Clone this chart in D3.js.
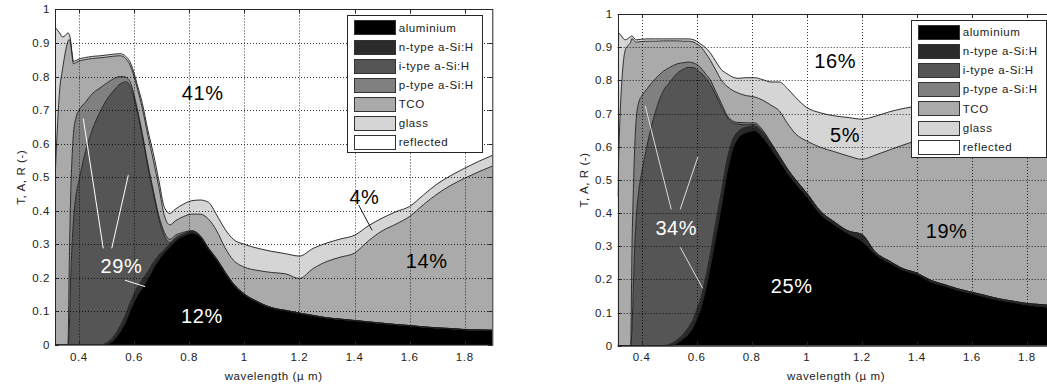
<!DOCTYPE html>
<html>
<head>
<meta charset="utf-8">
<script src="https://cdn.jsdelivr.net/npm/d3@7"></script>
<style>
  body { margin: 0; background: #fff; }
  svg { display: block; }
  text { font-family: "Liberation Sans", Arial, Helvetica, sans-serif; }
</style>
</head>
<body>
<svg id="chart" width="1047" height="387"></svg>
<script>
// Wavelength grid (µm), shared by both cells
const wavelength = [0.313, 0.32, 0.33, 0.34, 0.35, 0.36, 0.365, 0.37, 0.375, 0.38, 0.39, 0.40,
  0.42, 0.45, 0.48, 0.50, 0.53, 0.55, 0.57, 0.59, 0.60, 0.61, 0.63, 0.65, 0.67, 0.69, 0.71, 0.73,
  0.75, 0.78, 0.81, 0.84, 0.87, 0.90, 0.93, 0.96, 1.0, 1.05, 1.1, 1.15, 1.2, 1.25, 1.3, 1.35, 1.4,
  1.45, 1.5, 1.55, 1.6, 1.65, 1.7, 1.75, 1.8, 1.85, 1.9];

const layerNames = ["aluminium", "n-type a-Si:H", "i-type a-Si:H", "p-type a-Si:H", "TCO", "glass", "reflected"];
const xTickValues = [0.4, 0.6, 0.8, 1, 1.2, 1.4, 1.6, 1.8];
const yTickValues = [0, 0.1, 0.2, 0.3, 0.4, 0.5, 0.6, 0.7, 0.8, 0.9, 1];

// ---- Cell A (left): absorption in each layer ----
const cellA_aluminium = [0,0,0,0,0,0,0,0,0,0,0,0,0,0,0,
  0.002,0.018,0.04,0.07,0.11,0.127,0.144,0.17,0.197,0.228,0.254,0.275,0.293,0.31,0.325,0.334,
  0.322,0.285,0.253,0.215,0.18,0.15,0.127,0.11,0.102,0.094,0.087,0.08,0.076,0.072,0.068,0.064,
  0.06,0.057,0.053,0.05,0.048,0.045,0.044,0.043];
const cellA_nType = [0,0,0,0,0,0,0,0,0,0,0,0,0,0,0,
  0.005,0.012,0.018,0.022,0.025,0.026,0.026,0.025,0.022,0.018,0.014,0.01,0.008,0.006,0.004,0.003,
  0.002,0.002,0.002,0.002,0.002,0.002,
  0.001,0.001,0.001,0.001,0.001,0.001,0.001,0.001,0.001,0.001,0.001,0.001,0.001,0.001,0.001,0.001,0.001,0.001];
const cellA_iType = [0,0,0,0,0,0,
  0.05,0.20,0.30,0.37,0.45,0.49,0.565,0.645,0.70,0.723,0.732,0.72,0.692,0.627,0.582,0.53,0.425,
  0.311,0.204,0.107,0.04,0.004,0.004,0.003,0.002,0.001,0.001,0.001,0.001,0.001,
  0,0,0,0,0,0,0,0,0,0,0,0,0,0,0,0,0,0,0];
const cellA_pType = [0,0,0,0,0,0,
  0.20,0.25,0.26,0.26,0.23,0.21,0.155,0.105,0.068,0.05,0.033,0.022,0.014,0.013,0.01,0.01,0.01,
  0.01,0.01,0.01,0.01,0.01,0.007,0.004,0.002,0.001,0.001,0.001,
  0,0,0,0,0,0,0,0,0,0,0,0,0,0,0,0,0,0,0,0,0];
const cellA_tco = [0.49,0.62,0.76,0.82,0.87,0.905,0.66,0.445,0.302,0.208,0.162,0.146,
  0.13,0.104,0.088,0.078,0.066,0.062,0.055,0.05,0.055,0.06,0.075,0.085,0.09,0.085,0.05,0.043,
  0.043,0.047,0.049,0.064,0.086,0.083,0.072,0.07,
  0.08,0.094,0.105,0.109,0.103,0.14,0.168,0.185,0.201,0.241,0.275,0.299,0.325,0.364,0.399,0.427,
  0.451,0.471,0.489];
const cellA_glass = [0.457,0.32,0.17,0.098,0.052,0.025,0.015,0.01,0.008,0.007,0.006,0.006,
  0.006,0.006,0.006,0.006,0.006,0.006,0.007,0.01,0.01,0.01,0.015,0.015,0.02,0.02,0.025,0.034,
  0.035,0.037,0.04,0.042,0.05,0.047,0.055,0.062,
  0.068,0.066,0.063,0.06,0.067,0.06,0.055,0.054,0.053,0.045,0.038,0.037,0.03,0.029,0.03,0.029,
  0.03,0.031,0.032];

// ---- Cell B (right): absorption in each layer ----
const cellB_aluminium = [0,0,0,0,0,0,0,0,0,0,0,0,0,0,0,
  0,0.008,0.02,0.035,0.06,0.08,0.10,0.16,0.24,0.33,0.42,0.52,0.59,0.625,0.643,0.648,
  0.628,0.594,0.558,0.52,0.488,0.45,0.396,0.365,0.338,0.315,0.275,0.25,0.228,0.215,0.193,0.18,
  0.167,0.157,0.147,0.137,0.13,0.123,0.118,0.114];
const cellB_nType = [0,0,0,0,0,0,0,0,0,0,0,0,0,0,0,
  0.004,0.01,0.014,0.02,0.025,0.028,0.03,0.035,0.04,0.045,0.045,0.04,0.03,0.02,0.016,0.014,
  0.013,0.012,0.011,0.01,0.01,0.009,0.008,0.008,0.008,0.02,0.006,0.005,0.004,0.004,0.004,0.004,
  0.004,0.004,0.004,0.004,0.004,0.004,0.006,0.006];
const cellB_iType = [0,0,0,0,0,0,
  0.05,0.18,0.30,0.38,0.47,0.52,0.605,0.705,0.77,0.788,0.804,0.799,0.784,0.753,0.725,0.696,0.615,
  0.507,0.38,0.255,0.13,0.053,0.023,0.007,0.005,0.004,0.003,0.002,0.002,0.001,0.001,0.001,
  0,0,0,0,0,0,0,0,0,0,0,0,0,0,0,0,0];
const cellB_pType = [0,0,0,0,0,0,
  0.25,0.29,0.30,0.30,0.265,0.232,0.17,0.10,0.058,0.046,0.028,0.02,0.016,0.014,0.015,0.016,0.012,
  0.013,0.01,0.01,0.005,0.005,0.005,0.006,0.005,0.005,0.003,0.002,0.001,0.001,
  0,0,0,0,0,0,0,0,0,0,0,0,0,0,0,0,0,0,0];
const cellB_tco = [0.45,0.66,0.82,0.89,0.905,0.915,0.626,0.452,0.318,0.235,0.181,0.165,
  0.143,0.113,0.091,0.081,0.069,0.065,0.063,0.063,0.062,0.063,0.063,0.06,0.065,0.07,0.087,0.092,
  0.089,0.082,0.078,0.09,0.113,0.135,0.137,0.138,
  0.157,0.193,0.212,0.226,0.227,0.294,0.335,0.373,0.399,0.431,0.454,0.477,0.497,0.517,0.537,0.554,
  0.571,0.581,0.59];
const cellB_glass = [0.497,0.28,0.11,0.032,0.021,0.017,0.008,0.008,0.007,0.007,0.007,0.007,
  0.007,0.007,0.006,0.006,0.006,0.007,0.007,0.007,0.008,0.007,0.015,0.022,0.026,0.032,0.038,0.04,
  0.044,0.054,0.058,0.062,0.07,0.087,0.105,0.11,
  0.101,0.104,0.108,0.116,0.121,0.117,0.115,0.11,0.104,0.102,0.10,0.098,0.096,0.094,0.092,0.09,
  0.088,0.088,0.09];

// Integrated shares written on the plots: [text, wavelength, level]
const cellA_shares = [["41%", 0.849, 0.729], ["4%", 1.436, 0.42], ["14%", 1.662, 0.228],
  ["12%", 0.846, 0.065], ["29%", 0.554, 0.214]];
const cellB_shares = [["16%", 1.103, 0.836], ["5%", 1.139, 0.615], ["19%", 1.508, 0.324],
  ["25%", 0.945, 0.158], ["34%", 0.526, 0.334]];

// Leader lines from shares to their layers: [[w0, v0], [w1, v1]]
const cellA_leaders = [[[0.4156, 0.675], [0.488, 0.288]], [[0.579, 0.506], [0.519, 0.288]],
  [[0.567, 0.193], [0.64, 0.174]], [[1.415, 0.417], [1.4636, 0.342]]];
const cellB_leaders = [[[0.413, 0.723], [0.5076, 0.411]], [[0.6046, 0.57], [0.540, 0.411]],
  [[0.540, 0.297], [0.6217, 0.173]]];

// ---- drawing ----
const layerColors = ["#000000", "#2b2b2b", "#555555", "#808080", "#aaaaaa", "#d5d5d5", "#ffffff"];
const shareColorsA = ["#000", "#000", "#000", "#fff", "#fff"];
const shareColorsB = ["#000", "#000", "#000", "#fff", "#fff"];
const leaderColorsA = ["#fff", "#fff", "#fff", "#1a1a1a"];
const leaderColorsB = ["#dcdcdc", "#dcdcdc", "#dcdcdc"];

const svg = d3.select("#chart");
const keys = ["al", "n", "i", "p", "tco", "glass"];

function drawCell(id, frame, layers, shares, shareColors, leaders, leaderColors) {
  const x = d3.scaleLinear().domain([0.313, 1.9]).range([frame.left, frame.right]);
  const y = d3.scaleLinear().domain([0, 1]).range([frame.bottom, frame.top]);
  const g = svg.append("g");

  const clipId = "clip-" + id;
  g.append("clipPath").attr("id", clipId).append("rect")
    .attr("x", frame.left).attr("y", frame.top)
    .attr("width", frame.right - frame.left).attr("height", frame.bottom - frame.top);

  const rows = wavelength.map((w, k) => {
    const r = { w };
    keys.forEach((key, j) => { r[key] = layers[j][k]; });
    return r;
  });
  const series = d3.stack().keys(keys)(rows);

  const plot = g.append("g").attr("clip-path", `url(#${clipId})`);
  plot.append("rect").attr("x", frame.left).attr("y", frame.top)
    .attr("width", frame.right - frame.left).attr("height", frame.bottom - frame.top)
    .attr("fill", "#fff");

  const area = d3.area().curve(d3.curveMonotoneX)
    .x(d => x(d.data.w)).y0(d => y(d[0])).y1(d => y(d[1]));
  const edge = d3.line().curve(d3.curveMonotoneX)
    .x(d => x(d.data.w)).y(d => y(d[1]));

  plot.selectAll("path.layer").data(series).join("path")
    .attr("class", "layer")
    .attr("d", area)
    .attr("fill", (d, j) => layerColors[j])
    .attr("stroke", (d, j) => layerColors[j])
    .attr("stroke-width", 0.4);

  plot.selectAll("path.edge").data(series).join("path")
    .attr("class", "edge")
    .attr("d", edge)
    .attr("fill", "none")
    .attr("stroke", "#1e1e1e")
    .attr("stroke-width", 0.9);

  // dotted grid
  const grid = plot.append("g").attr("stroke", "#000").attr("stroke-width", 1)
    .attr("stroke-dasharray", "1,2").attr("opacity", 0.8);
  xTickValues.forEach(v => {
    const px = Math.round(x(v)) + 0.5;
    grid.append("line").attr("x1", px).attr("x2", px).attr("y1", frame.top).attr("y2", frame.bottom);
  });
  yTickValues.filter(v => v > 0 && v < 1).forEach(v => {
    const py = Math.round(y(v)) + 0.5;
    grid.append("line").attr("x1", frame.left).attr("x2", frame.right).attr("y1", py).attr("y2", py);
  });

  // leader lines and share labels
  leaders.forEach((seg, j) => {
    plot.append("line")
      .attr("x1", x(seg[0][0])).attr("y1", y(seg[0][1]))
      .attr("x2", x(seg[1][0])).attr("y2", y(seg[1][1]))
      .attr("stroke", leaderColors[j]).attr("stroke-width", 1);
  });
  shares.forEach((s, j) => {
    plot.append("text")
      .attr("x", x(s[1])).attr("y", y(s[2]))
      .attr("text-anchor", "middle")
      .attr("font-size", "20px")
      .attr("letter-spacing", "0.6px")
      .attr("fill", shareColors[j])
      .text(s[0]);
  });

  // axes box and inward ticks
  const axisColor = "#262626";
  g.append("rect")
    .attr("x", Math.round(frame.left) + 0.5).attr("y", Math.round(frame.top) + 0.5)
    .attr("width", frame.right - frame.left).attr("height", frame.bottom - frame.top)
    .attr("fill", "none").attr("stroke", axisColor).attr("stroke-width", 1);
  const ticks = g.append("g").attr("stroke", axisColor).attr("stroke-width", 1);
  const tl = 4;
  xTickValues.forEach(v => {
    const px = Math.round(x(v)) + 0.5;
    ticks.append("line").attr("x1", px).attr("x2", px).attr("y1", frame.bottom).attr("y2", frame.bottom - tl);
    ticks.append("line").attr("x1", px).attr("x2", px).attr("y1", frame.top).attr("y2", frame.top + tl);
  });
  yTickValues.forEach(v => {
    const py = Math.round(y(v)) + 0.5;
    ticks.append("line").attr("x1", frame.left).attr("x2", frame.left + tl).attr("y1", py).attr("y2", py);
    ticks.append("line").attr("x1", frame.right).attr("x2", frame.right - tl).attr("y1", py).attr("y2", py);
  });

  const labelStyle = sel => sel.attr("font-size", "11.5px").attr("letter-spacing", "0.6px").attr("fill", "#222");
  xTickValues.forEach(v => {
    g.append("text").call(labelStyle)
      .attr("x", x(v)).attr("y", frame.bottom + 15.5)
      .attr("text-anchor", "middle")
      .text(d3.format("~g")(v));
  });
  yTickValues.forEach(v => {
    g.append("text").call(labelStyle)
      .attr("x", frame.left - 5).attr("y", y(v)).attr("dy", "0.35em")
      .attr("text-anchor", "end")
      .text(d3.format("~g")(v));
  });

  // axis titles
  g.append("text").call(labelStyle)
    .attr("x", (frame.left + frame.right) / 2).attr("y", frame.bottom + 34.5)
    .attr("text-anchor", "middle")
    .text("wavelength (\u00b5 m)");
  g.append("text").call(labelStyle)
    .attr("transform", `translate(${frame.left - 30},${(frame.top + frame.bottom) / 2}) rotate(-90)`)
    .attr("text-anchor", "middle")
    .text("T, A, R (-)");

  // legend
  const lgW = 135, lgH = 137, rowH = 19.1;
  const lgX = frame.right - frame.legendGap - lgW, lgY = frame.top + 6;
  const lg = g.append("g");
  lg.append("rect").attr("x", Math.round(lgX) + 0.5).attr("y", Math.round(lgY) + 0.5)
    .attr("width", lgW).attr("height", lgH)
    .attr("fill", "#fff").attr("stroke", "#262626").attr("stroke-width", 1);
  layerNames.forEach((name, j) => {
    const cy = lgY + 12 + j * rowH;
    lg.append("rect")
      .attr("x", Math.round(lgX + 7.6) + 0.5).attr("y", Math.round(cy - 7) + 0.5)
      .attr("width", 41).attr("height", 14)
      .attr("fill", layerColors[j]).attr("stroke", "#333").attr("stroke-width", 1);
    lg.append("text").call(labelStyle)
      .attr("x", lgX + 52).attr("y", cy).attr("dy", "0.36em")
      .text(name);
  });
}

drawCell("a", { left: 55, right: 492.3, top: 9.4, bottom: 345, legendGap: 10.6 },
  [cellA_aluminium, cellA_nType, cellA_iType, cellA_pType, cellA_tco, cellA_glass],
  cellA_shares, shareColorsA, cellA_leaders, leaderColorsA);

drawCell("b", { left: 617.7, right: 1054.5, top: 14, bottom: 345.7, legendGap: 8.8 },
  [cellB_aluminium, cellB_nType, cellB_iType, cellB_pType, cellB_tco, cellB_glass],
  cellB_shares, shareColorsB, cellB_leaders, leaderColorsB);
</script>
</body>
</html>
